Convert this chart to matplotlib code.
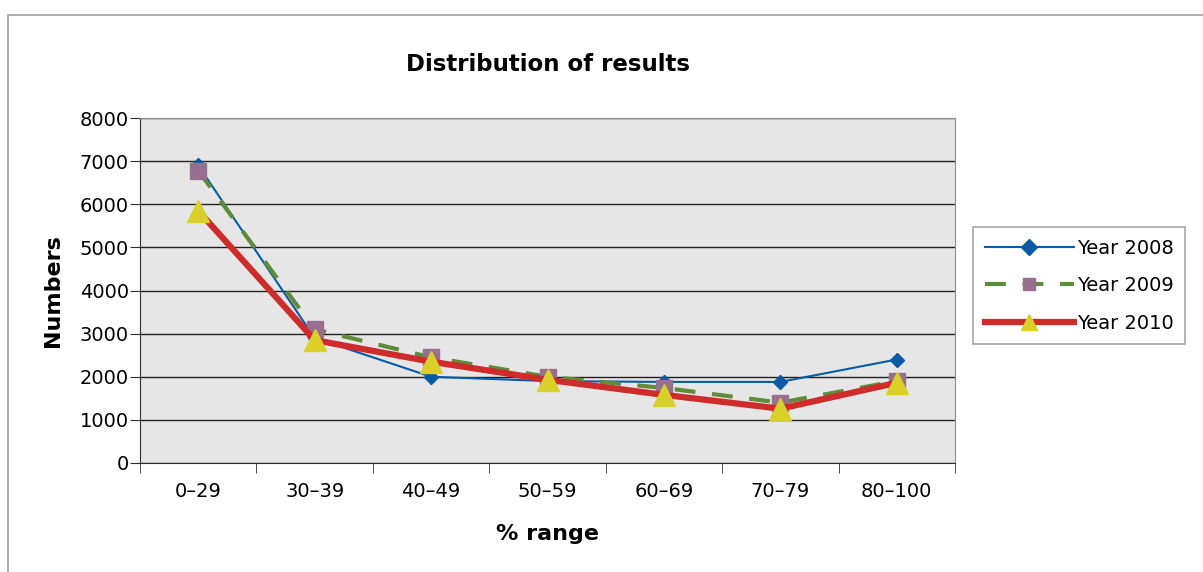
import matplotlib.pyplot as plt
from matplotlib.patches import Rectangle

categories = ['0–29', '30–39', '40–49', '50–59', '60–69', '70–79', '80–100']
year_2008 = [6900, 2900, 2000, 1900, 1880, 1880, 2400]
year_2009 = [6780, 3100, 2450, 2000, 1740, 1400, 1900]
year_2010 = [5850, 2850, 2350, 1930, 1580, 1260, 1860]
yticks = [0, 1000, 2000, 3000, 4000, 5000, 6000, 7000, 8000]

plt.rcParams['font.family'] = ['DejaVu Sans']

fig = plt.figure(figsize=(12.03, 5.72), dpi=100)
# outer frame
fig.patches.append(Rectangle((8/1203, -0.1), 1.2, 1.1 - 15/572, transform=fig.transFigure,
                             fill=False, edgecolor='#a0a0a0', linewidth=1.2))

ax = fig.add_axes([140/1203, 1 - 463/572, 815/1203, 345/572])
ax.set_facecolor('#e6e6e6')

x = list(range(len(categories)))
ax.plot(x, year_2008, color='#0a5aa5', lw=1.5, marker='D', ms=7,
        mfc='#0a5aa5', mec='#0a5aa5', label='Year 2008', zorder=3)
ax.plot(x, year_2009, color='#5f8c3a', lw=3, linestyle=(0, (5, 4)), marker='s', ms=12,
        mfc='#98708f', mec='#98708f', label='Year 2009', zorder=4)
ax.plot(x, year_2010, color='#d02b2b', lw=4.5, marker='^', ms=16,
        mfc='#d9d126', mec='#d9d126', label='Year 2010', zorder=5)

ax.set_ylim(0, 8000)
ax.set_xlim(-0.5, 6.5)
ax.set_yticks(yticks)
ax.set_yticklabels([str(v) for v in yticks], fontsize=14)
ax.yaxis.grid(True, color='#202020', lw=1)
ax.set_axisbelow(True)

ax.set_xticks(x)
ax.set_xticklabels(categories, fontsize=14)
ax.tick_params(axis='x', length=0, pad=14)
ax.set_xticks([i - 0.5 for i in range(len(categories) + 1)], minor=True)
ax.tick_params(axis='x', which='minor', length=7, color='#303030')
ax.tick_params(axis='y', length=7, color='#303030', pad=1)

for s in ['top', 'right']:
    ax.spines[s].set_color('#909090')
for s in ['left', 'bottom']:
    ax.spines[s].set_color('#303030')

ax.set_title('Distribution of results', fontsize=16.5, fontweight='bold', pad=34)
ax.set_ylabel('Numbers', fontsize=16, fontweight='bold', labelpad=12)
ax.set_xlabel('% range', fontsize=16, fontweight='bold', labelpad=16)

leg = fig.legend(loc='upper left', bbox_to_anchor=(973/1203, 1 - 227/572), fontsize=14,
                 frameon=True, fancybox=False, edgecolor='#909090', handlelength=4.6,
                 borderpad=0.6, labelspacing=0.95, handletextpad=0.15, borderaxespad=0)
leg.get_frame().set_linewidth(1.2)
for h, ms in zip(leg.legend_handles, [8, 8, 11]):
    h.set_markersize(ms)

fig.savefig('out.png', dpi=100)
